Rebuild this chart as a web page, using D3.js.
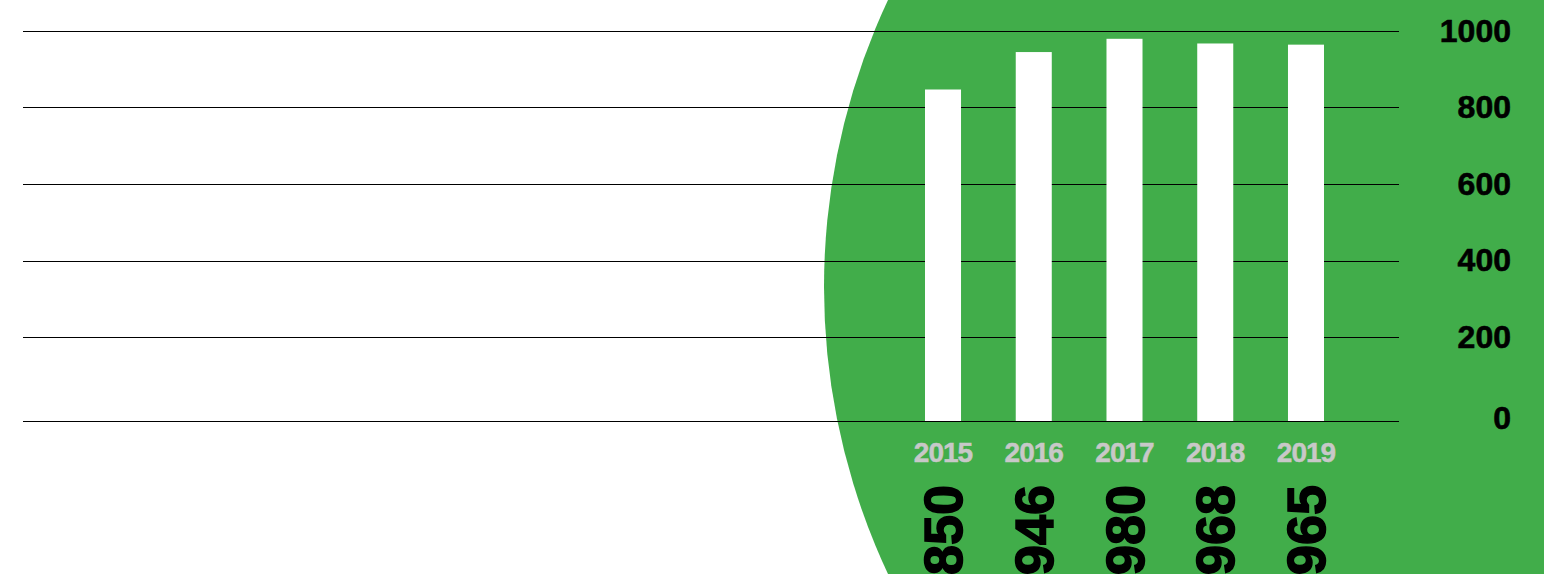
<!DOCTYPE html>
<meta charset="utf-8">
<style>
  body { margin: 0; background: #fff; }
  svg { display: block; font-family: "Liberation Sans", Arial, sans-serif; }
</style>
<svg width="1544" height="574"></svg>
<script src="https://d3js.org/d3.v7.min.js"></script>
<script>

// data
var years = ["2015", "2016", "2017", "2018", "2019"];
var values = [850, 946, 980, 968, 965];
var ticks = [0, 200, 400, 600, 800, 1000];

var svg = d3.select("svg"),
    width = +svg.attr("width"),
    height = +svg.attr("height");

var green = "#41ad4a";

// big green disc behind the bars
svg.append("circle")
    .attr("cx", 1499.5)
    .attr("cy", 287)
    .attr("r", 675.5)
    .attr("fill", green);

// scales
var x = d3.scaleBand().domain(years).range([925, 1324]).paddingInner(0.603);
var y = d3.scaleLinear().domain([0, 1000]).range([421, 31]);      // bars + baseline
var yGrid = d3.scaleLinear().domain([0, 1000]).range([413.5, 31]); // grid lines + labels

// grid lines (0 line sits on the bar baseline)
svg.append("g").selectAll("line")
  .data(ticks)
  .enter().append("line")
    .attr("x1", 23)
    .attr("x2", 1399)
    .attr("y1", function(d) { return d == 0 ? y(0) + 0.5 : Math.round(yGrid(d)) + 0.5; })
    .attr("y2", function(d) { return d == 0 ? y(0) + 0.5 : Math.round(yGrid(d)) + 0.5; })
    .attr("stroke", "#000")
    .attr("stroke-width", 1);

// tick labels on the right
svg.append("g").selectAll("text")
  .data(ticks)
  .enter().append("text")
    .attr("x", 1511)
    .attr("y", function(d) { return d == 0 ? 417 : yGrid(d) - 1; })
    .attr("dy", "0.36em")
    .attr("text-anchor", "end")
    .attr("font-size", 32)
    .attr("font-weight", "bold")
    .attr("fill", "#000")
    .attr("stroke", "#000")
    .attr("stroke-width", 0.6)
    .text(function(d) { return d; });

// bars
svg.append("g").selectAll("rect")
  .data(values)
  .enter().append("rect")
    .attr("x", function(d, i) { return x(years[i]); })
    .attr("y", function(d) { return y(d); })
    .attr("width", x.bandwidth())
    .attr("height", function(d) { return y(0) - y(d); })
    .attr("fill", "#fff");

// year labels
svg.append("g").selectAll("text")
  .data(years)
  .enter().append("text")
    .attr("x", function(d) { return x(d) + x.bandwidth() / 2; })
    .attr("y", 461.5)
    .attr("text-anchor", "middle")
    .attr("font-size", 28)
    .attr("font-weight", "bold")
    .attr("letter-spacing", "-1px")
    .attr("fill", "#c8c8c8")
    .attr("stroke", "#c8c8c8")
    .attr("stroke-width", 0.5)
    .text(function(d) { return d; });

// value labels, rotated, reading upward
svg.append("g").selectAll("text")
  .data(values)
  .enter().append("text")
    .attr("transform", function(d, i) {
      return "translate(" + (x(years[i]) + x.bandwidth() + 1) + ",485) rotate(-90)";
    })
    .attr("text-anchor", "end")
    .attr("font-size", 54)
    .attr("font-weight", "bold")
    .attr("fill", "#000")
    .attr("stroke", "#000")
    .attr("stroke-width", 1.5)
    .text(function(d) { return d; });

</script>
